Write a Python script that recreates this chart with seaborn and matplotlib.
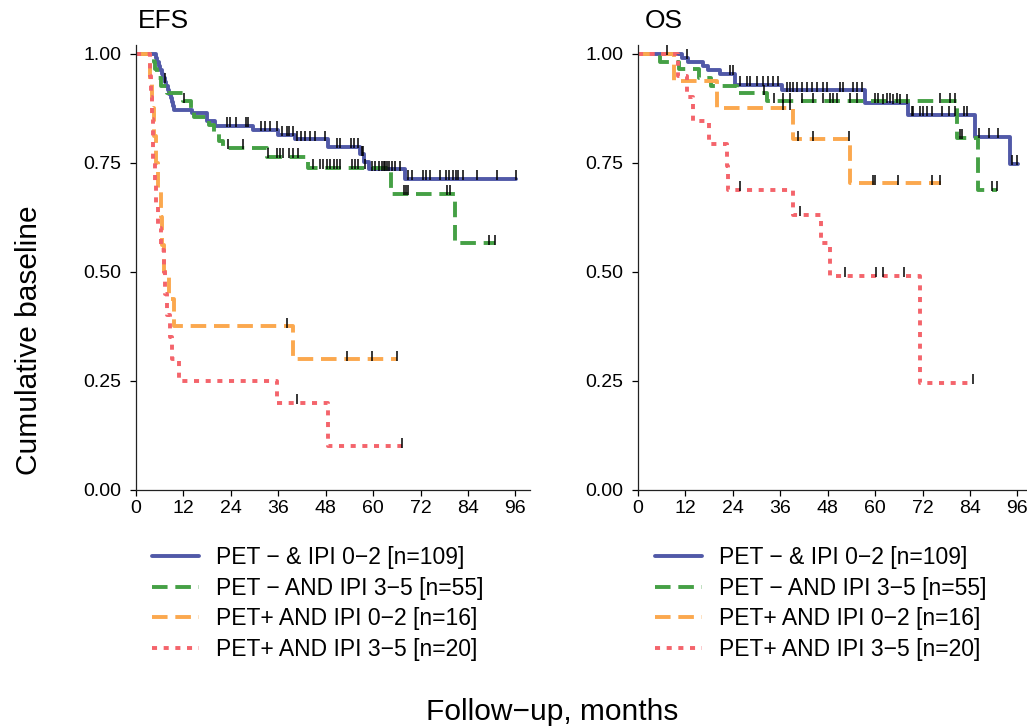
import numpy as np
import pandas as pd
import matplotlib
matplotlib.use("Agg")
import matplotlib.pyplot as plt
import seaborn as sns
from matplotlib.lines import Line2D

# group labels and styles
groups = ["PET − & IPI 0−2 [n=109]", "PET − AND IPI 3−5 [n=55]",
          "PET+ AND IPI 0−2 [n=16]", "PET+ AND IPI 3−5 [n=20]"]
colors = ["#5159A8", "#45A045", "#FBA84E", "#F4646B"]
dash_list = ["", (4, 2), (4, 2), (1.3, 1.7)]

# ---- EFS: event times (months), survival after each event, censor times, last follow-up
efs_blue_t = [5.1, 5.4, 5.8, 6.1, 6.5, 6.9, 7.3, 7.7, 8.0, 8.4, 8.9, 9.1, 9.4, 9.7,
              14.1, 17.9, 20.0, 29.7, 36.0, 40.3, 48.7, 56.7, 57.8, 59.0, 68.1]
efs_blue_s = [0.991, 0.982, 0.972, 0.963, 0.954, 0.945, 0.936, 0.927, 0.917, 0.908, 0.899, 0.890, 0.881, 0.872,
              0.863, 0.845, 0.835, 0.826, 0.814, 0.804, 0.787, 0.770, 0.752, 0.735, 0.713]
efs_blue_c = [7.4, 23.0, 23.8, 25.3, 27.8, 28.4, 31.6, 32.7, 33.9, 35.6, 36.9, 38.2, 38.8, 39.7,
              40.7, 41.7, 42.8, 44.0, 45.3, 47.8, 50.8, 51.5, 54.3, 55.2, 56.3, 57.1, 57.5,
              59.7, 60.5, 61.4, 62.2, 62.7, 63.1, 63.5, 63.9, 64.8, 65.6, 66.7,
              68.9, 69.8, 72.7, 73.4, 74.3, 77.0, 78.5, 79.1, 80.2, 81.0, 81.6, 82.7, 86.2, 91.3, 96.2]
efs_blue_end = 96.2

efs_green_t = [4.6, 4.8, 5.3, 6.3, 7.8, 11.8, 13.9, 14.8, 18.5, 19.8, 21.0, 22.0, 33.1, 43.4, 64.5, 80.8]
efs_green_s = [0.982, 0.964, 0.945, 0.927, 0.909, 0.891, 0.873, 0.855, 0.836, 0.818, 0.800, 0.784,
               0.764, 0.739, 0.679, 0.566]
efs_green_c = [12.2, 23.4, 27.2, 33.5, 35.6, 36.4, 37.1, 38.8, 39.8, 41.1, 44.9, 46.6, 47.4, 48.3,
               49.1, 50.0, 50.8, 51.6, 54.6, 55.4, 56.3, 57.9, 67.7, 68.4, 68.9, 78.7, 79.5, 89.4, 90.9]
efs_green_end = 90.9

efs_orange_t = [3.5, 4.0, 4.6, 5.0, 5.5, 6.2, 6.7, 7.0, 8.3, 9.6, 39.8]
efs_orange_s = [0.9375, 0.875, 0.8125, 0.75, 0.6875, 0.625, 0.5625, 0.5, 0.4375, 0.375, 0.30]
efs_orange_c = [38.1, 53.5, 59.8, 66.0]
efs_orange_end = 66.0

efs_red_t = [3.5, 3.8, 4.0, 4.2, 4.4, 4.7, 5.0, 5.6, 6.3, 7.0, 7.3, 7.8, 8.5, 9.0, 10.8, 35.6, 48.5]
efs_red_s = [0.95, 0.90, 0.85, 0.80, 0.75, 0.70, 0.65, 0.60, 0.55, 0.50, 0.45, 0.40, 0.35, 0.30,
             0.25, 0.20, 0.10]
efs_red_c = [40.7, 67.3]
efs_red_end = 67.3

# ---- OS
os_blue_t = [11.1, 12.7, 16.5, 17.8, 20.8, 24.6, 36.4, 57.5, 68.4, 85.3, 94.2]
os_blue_s = [0.991, 0.982, 0.972, 0.963, 0.954, 0.929, 0.916, 0.888, 0.860, 0.810, 0.748]
os_blue_c = [7.4, 12.3, 23.3, 24.1, 25.8, 27.5, 28.4, 30.0, 31.7, 33.0, 34.1, 35.5, 37.6, 38.5,
             39.3, 40.2, 41.4, 42.7, 44.0, 45.2, 46.9, 47.8, 51.1, 52.0, 54.5, 55.4, 56.6,
             62.1, 64.6, 66.3, 68.0, 69.3, 69.7, 71.4, 72.2, 73.1, 74.4, 76.9, 78.6, 80.3,
             82.4, 83.2, 86.4, 88.7, 91.2, 94.6, 95.9]
os_blue_end = 96.2

os_green_t = [5.6, 10.5, 15.4, 18.5, 25.0, 32.6, 80.8, 86.0]
os_green_s = [0.982, 0.964, 0.945, 0.927, 0.909, 0.891, 0.807, 0.688]
os_green_c = [32.0, 34.3, 36.8, 38.5, 41.4, 44.4, 46.9, 48.6, 49.4, 50.3, 53.7, 55.4, 60.0, 60.8,
              63.0, 63.8, 65.5, 76.5, 79.0, 80.3, 81.5, 82.1, 89.5, 90.8]
os_green_end = 90.8

os_orange_t = [9.2, 20.1, 39.3, 53.7]
os_orange_s = [0.9375, 0.875, 0.804, 0.703]
os_orange_c = [36.8, 38.4, 40.6, 44.4, 53.4, 59.4, 60.0, 65.9, 74.3, 76.5]
os_orange_end = 76.7

os_red_t = [10.2, 12.4, 13.9, 17.9, 22.4, 22.7, 39.3, 46.3, 48.5, 71.4]
os_red_s = [0.95, 0.90, 0.846, 0.793, 0.742, 0.688, 0.631, 0.566, 0.491, 0.246]
os_red_c = [25.8, 41.0, 52.4, 60.3, 62.1, 67.2, 84.7]
os_red_end = 84.7

panels = {
    "EFS": [(efs_blue_t, efs_blue_s, efs_blue_c, efs_blue_end),
            (efs_green_t, efs_green_s, efs_green_c, efs_green_end),
            (efs_orange_t, efs_orange_s, efs_orange_c, efs_orange_end),
            (efs_red_t, efs_red_s, efs_red_c, efs_red_end)],
    "OS": [(os_blue_t, os_blue_s, os_blue_c, os_blue_end),
           (os_green_t, os_green_s, os_green_c, os_green_end),
           (os_orange_t, os_orange_s, os_orange_c, os_orange_end),
           (os_red_t, os_red_s, os_red_c, os_red_end)],
}

sns.set_theme(style="ticks")
plt.rcParams["font.family"] = ["Liberation Sans", "DejaVu Sans"]
plt.rcParams["text.color"] = "black"

W, H = 1027, 726
fig = plt.figure(figsize=(W / 100, H / 100), dpi=100)
ax_efs = fig.add_axes([136 / W, 1 - 490 / H, 394 / W, 445 / H])
ax_os = fig.add_axes([638 / W, 1 - 490 / H, 394 / W, 445 / H])

palette = dict(zip(groups, colors))
dashes = dict(zip(groups, dash_list))

for (name, curves), ax in zip(panels.items(), [ax_efs, ax_os]):
    rows = []
    for g, (t, s, c, end) in zip(groups, curves):
        xs = [0] + t + [end]
        ys = [1.0] + s + [s[-1]]
        rows.append(pd.DataFrame({"time": xs, "surv": ys, "group": g}))
    df = pd.concat(rows, ignore_index=True)
    sns.lineplot(data=df, x="time", y="surv", hue="group", style="group",
                 hue_order=groups, style_order=groups, palette=palette, dashes=dashes,
                 estimator=None, sort=False, drawstyle="steps-post", linewidth=2.8,
                 legend=False, ax=ax)

    # censor marks
    for t, s, c, end in curves:
        s_arr = np.array([1.0] + s)
        idx = np.searchsorted(np.array(t), np.array(c), side="right")
        ax.plot(c, s_arr[idx] + 0.008, ls="none", marker="|", color="black",
                ms=6.5, mew=1.1, zorder=5)

    ax.set_xlim(0, 99.7)
    ax.set_ylim(0, 1.02)
    ax.set_xticks(range(0, 97, 12))
    ax.set_yticks([0, 0.25, 0.5, 0.75, 1.0])
    ax.set_yticklabels(["0.00", "0.25", "0.50", "0.75", "1.00"])
    ax.set_xlabel("")
    ax.set_ylabel("")
    ax.tick_params(labelsize=14, length=4.3, width=0.9, colors="black")
    ax.tick_params(axis="y", pad=6)
    ax.tick_params(axis="x", pad=3)
    for sp in ax.spines.values():
        sp.set_linewidth(0.9)
        sp.set_color("#222222")
    sns.despine(ax=ax)

    handles = [Line2D([], [], color=colors[0], lw=2.8)]
    handles += [Line2D([], [], color=col, lw=2.8, dashes=d) for col, d in zip(colors[1:], dash_list[1:])]
    lx = 152 if name == "EFS" else 655
    ax.legend(handles, groups, loc="upper left", bbox_to_anchor=(lx / W, 1 - 546 / H),
              bbox_transform=fig.transFigure, frameon=False, fontsize=16.5,
              handlelength=2.05, handletextpad=0.74, labelspacing=0.33,
              borderpad=0, borderaxespad=0)

fig.text(138 / W, 1 - 21 / H, "EFS", ha="left", va="center", fontsize=19)
fig.text(645 / W, 1 - 21 / H, "OS", ha="left", va="center", fontsize=19)
fig.text(29 / W, 1 - 340 / H, "Cumulative baseline", rotation=90, ha="center", va="center", fontsize=21.5)
fig.text(552 / W, 1 - 712 / H, "Follow−up, months", ha="center", va="center", fontsize=21.5)

fig.savefig("out.png", dpi=100)
